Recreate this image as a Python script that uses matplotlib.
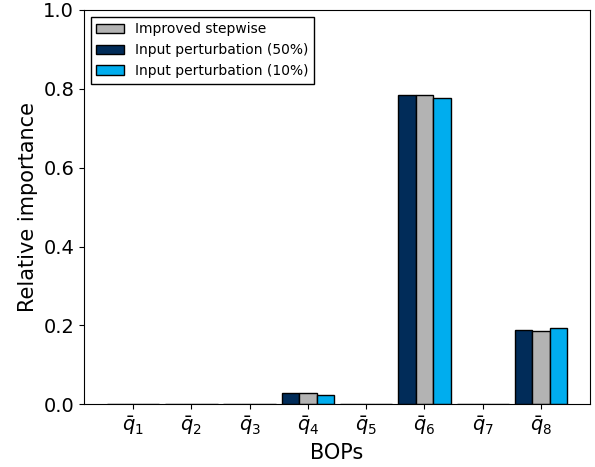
import numpy as np
import matplotlib.pyplot as plt
from matplotlib.patches import Patch

# BOP labels and relative importance from each method
bops = [r'$\bar{q}_%d$' % i for i in range(1, 9)]
perturb_50 = [0.0, 0.0, 0.0, 0.028, 0.0, 0.783, 0.0, 0.189]
stepwise = [0.0, 0.0, 0.0, 0.030, 0.0, 0.783, 0.0, 0.186]
perturb_10 = [0.0, 0.0, 0.0, 0.024, 0.0, 0.776, 0.0, 0.194]

c_dark = '#012c59'
c_gray = '#b3b3b3'
c_light = '#00adee'

fig, ax = plt.subplots(figsize=(5.95, 4.67), dpi=100)
x = np.arange(1, len(bops) + 1)
w = 0.3

ax.bar(x - w, perturb_50, w, color=c_dark, edgecolor='black')
ax.bar(x, stepwise, w, color=c_gray, edgecolor='black')
ax.bar(x + w, perturb_10, w, color=c_light, edgecolor='black')

ax.set_ylim(0, 1.0)
ax.set_xticks(x)
ax.set_xticklabels(bops, fontsize=14)
ax.tick_params(axis='y', labelsize=14)
ax.set_xlabel('BOPs', fontsize=15)
ax.set_ylabel('Relative importance', fontsize=15)

handles = [Patch(facecolor=c_gray, edgecolor='black', label='Improved stepwise'),
           Patch(facecolor=c_dark, edgecolor='black', label='Input perturbation (50%)'),
           Patch(facecolor=c_light, edgecolor='black', label='Input perturbation (10%)')]
ax.legend(handles=handles, loc='upper left', fontsize=10, fancybox=False,
          edgecolor='black', framealpha=1)

plt.subplots_adjust(left=0.141, right=0.992, top=0.979, bottom=0.134)
plt.savefig('out.png')
